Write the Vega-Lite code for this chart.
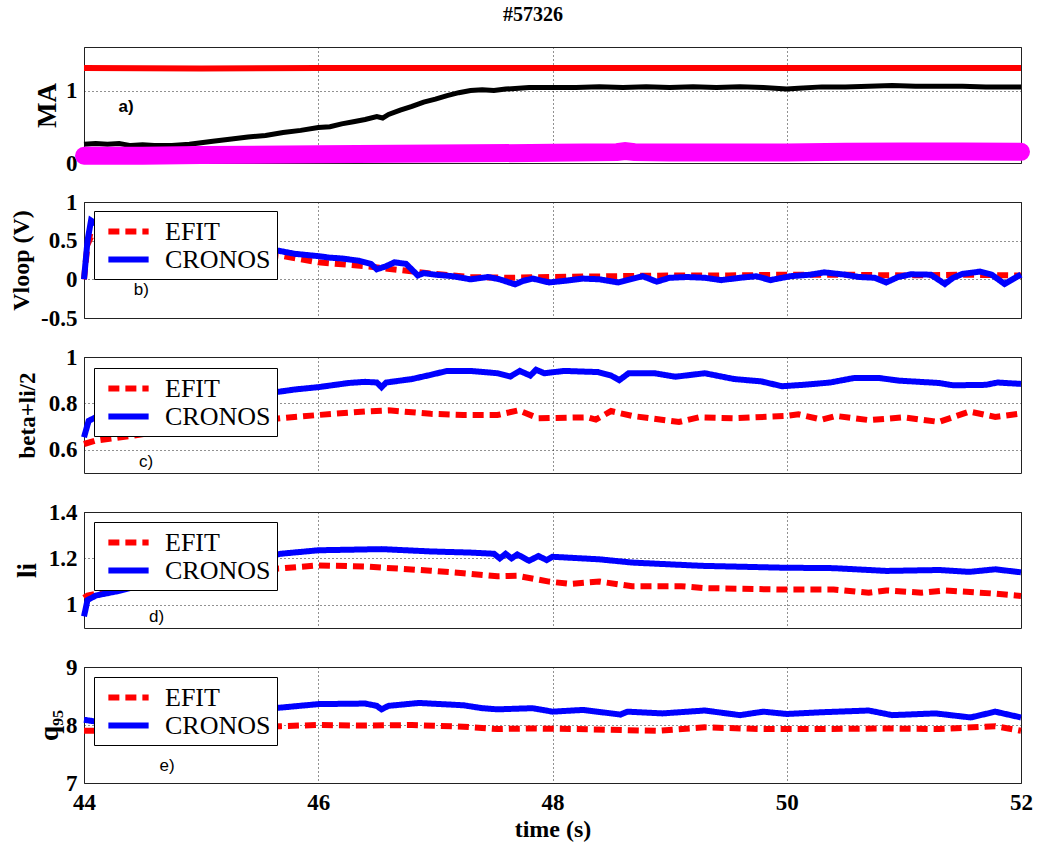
{
  "$schema": "https://vega.github.io/schema/vega-lite/v6.json",
  "background": "white",
  "bounds": "flush",
  "padding": {"left": 8, "top": 4, "right": 5, "bottom": 0},
  "title": {"text": "#57326", "font": "Liberation Serif", "fontSize": 20, "fontWeight": "bold", "anchor": "middle", "offset": 22, "color": "black"},
  "config": {
    "view": {"stroke": "#222222", "strokeWidth": 1},
    "axis": {"grid": true, "gridDash": [1, 3], "gridColor": "#222222", "gridWidth": 1, "domain": false, "ticks": false, "tickCount": 10, "labelExpr": "toString(datum.value)", "labelFont": "Liberation Serif", "labelFontWeight": "bold", "labelFontSize": 23, "labelColor": "black", "titleFont": "Liberation Serif", "titleFontWeight": "bold", "titleFontSize": 24, "titleColor": "black", "labelFlush": false, "labelOverlap": false},
    "axisY": {"labelPadding": 7, "minExtent": 10, "maxExtent": 10}
  },
  "datasets": {
    "maRed": [
      {"t": 44.0, "v": 1.31}, {"t": 45.0, "v": 1.305}, {"t": 46.0, "v": 1.31}, {"t": 47.0, "v": 1.31}, {"t": 48.0, "v": 1.31}, {"t": 49.0, "v": 1.31}, {"t": 50.0, "v": 1.31}, {"t": 51.0, "v": 1.31}, {"t": 52.0, "v": 1.31}
    ],
    "maBlack": [
      {"t": 44.0, "v": 0.26}, {"t": 44.1, "v": 0.27}, {"t": 44.2, "v": 0.26}, {"t": 44.3, "v": 0.27}, {"t": 44.4, "v": 0.24}, {"t": 44.5, "v": 0.25}, {"t": 44.6, "v": 0.24}, {"t": 44.75, "v": 0.24}, {"t": 44.9, "v": 0.26}, {"t": 45.0, "v": 0.28}, {"t": 45.1, "v": 0.3}, {"t": 45.26, "v": 0.33}, {"t": 45.4, "v": 0.36}, {"t": 45.55, "v": 0.38}, {"t": 45.7, "v": 0.42}, {"t": 45.85, "v": 0.45}, {"t": 46.0, "v": 0.49}, {"t": 46.1, "v": 0.5}, {"t": 46.2, "v": 0.54}, {"t": 46.3, "v": 0.57}, {"t": 46.4, "v": 0.6}, {"t": 46.5, "v": 0.64}, {"t": 46.55, "v": 0.62}, {"t": 46.6, "v": 0.67}, {"t": 46.7, "v": 0.73}, {"t": 46.8, "v": 0.78}, {"t": 46.9, "v": 0.84}, {"t": 47.0, "v": 0.88}, {"t": 47.1, "v": 0.93}, {"t": 47.2, "v": 0.97}, {"t": 47.3, "v": 1.0}, {"t": 47.4, "v": 1.01}, {"t": 47.5, "v": 1.0}, {"t": 47.6, "v": 1.02}, {"t": 47.8, "v": 1.04}, {"t": 48.0, "v": 1.04}, {"t": 48.2, "v": 1.04}, {"t": 48.4, "v": 1.05}, {"t": 48.6, "v": 1.04}, {"t": 48.8, "v": 1.05}, {"t": 49.0, "v": 1.04}, {"t": 49.2, "v": 1.05}, {"t": 49.4, "v": 1.04}, {"t": 49.6, "v": 1.05}, {"t": 49.8, "v": 1.04}, {"t": 50.0, "v": 1.02}, {"t": 50.1, "v": 1.03}, {"t": 50.3, "v": 1.05}, {"t": 50.5, "v": 1.05}, {"t": 50.7, "v": 1.06}, {"t": 50.9, "v": 1.07}, {"t": 51.1, "v": 1.06}, {"t": 51.3, "v": 1.06}, {"t": 51.5, "v": 1.06}, {"t": 51.7, "v": 1.05}, {"t": 51.9, "v": 1.05}, {"t": 52.0, "v": 1.05}
    ],
    "maMag": [
      {"t": 44.0, "v": 0.1}, {"t": 44.5, "v": 0.1}, {"t": 45.0, "v": 0.11}, {"t": 46.0, "v": 0.12}, {"t": 47.0, "v": 0.13}, {"t": 48.0, "v": 0.14}, {"t": 48.55, "v": 0.15}, {"t": 48.62, "v": 0.165}, {"t": 48.7, "v": 0.15}, {"t": 49.0, "v": 0.145}, {"t": 50.0, "v": 0.145}, {"t": 50.5, "v": 0.155}, {"t": 51.0, "v": 0.16}, {"t": 51.5, "v": 0.16}, {"t": 52.0, "v": 0.155}
    ],
    "vloop": [
      {"t": 44.0, "v": 0.0, "s": "EFIT"}, {"t": 44.03, "v": 0.45, "s": "EFIT"}, {"t": 44.06, "v": 0.55, "s": "EFIT"}, {"t": 44.2, "v": 0.5, "s": "EFIT"}, {"t": 44.6, "v": 0.45, "s": "EFIT"}, {"t": 45.0, "v": 0.4, "s": "EFIT"}, {"t": 45.4, "v": 0.34, "s": "EFIT"}, {"t": 45.7, "v": 0.3, "s": "EFIT"}, {"t": 46.0, "v": 0.22, "s": "EFIT"}, {"t": 46.4, "v": 0.17, "s": "EFIT"}, {"t": 46.7, "v": 0.12, "s": "EFIT"}, {"t": 47.0, "v": 0.07, "s": "EFIT"}, {"t": 47.3, "v": 0.03, "s": "EFIT"}, {"t": 47.6, "v": 0.02, "s": "EFIT"}, {"t": 48.0, "v": 0.03, "s": "EFIT"}, {"t": 48.5, "v": 0.04, "s": "EFIT"}, {"t": 49.0, "v": 0.05, "s": "EFIT"}, {"t": 49.5, "v": 0.05, "s": "EFIT"}, {"t": 50.0, "v": 0.06, "s": "EFIT"}, {"t": 50.5, "v": 0.06, "s": "EFIT"}, {"t": 51.0, "v": 0.05, "s": "EFIT"}, {"t": 51.5, "v": 0.06, "s": "EFIT"}, {"t": 52.0, "v": 0.05, "s": "EFIT"},
      {"t": 44.0, "v": 0.0, "s": "CRONOS"}, {"t": 44.03, "v": 0.5, "s": "CRONOS"}, {"t": 44.06, "v": 0.76, "s": "CRONOS"}, {"t": 44.1, "v": 0.72, "s": "CRONOS"}, {"t": 44.3, "v": 0.6, "s": "CRONOS"}, {"t": 44.6, "v": 0.52, "s": "CRONOS"}, {"t": 45.0, "v": 0.45, "s": "CRONOS"}, {"t": 45.3, "v": 0.4, "s": "CRONOS"}, {"t": 45.66, "v": 0.37, "s": "CRONOS"}, {"t": 45.8, "v": 0.33, "s": "CRONOS"}, {"t": 46.0, "v": 0.3, "s": "CRONOS"}, {"t": 46.1, "v": 0.28, "s": "CRONOS"}, {"t": 46.2, "v": 0.27, "s": "CRONOS"}, {"t": 46.35, "v": 0.24, "s": "CRONOS"}, {"t": 46.45, "v": 0.2, "s": "CRONOS"}, {"t": 46.5, "v": 0.13, "s": "CRONOS"}, {"t": 46.58, "v": 0.17, "s": "CRONOS"}, {"t": 46.65, "v": 0.22, "s": "CRONOS"}, {"t": 46.75, "v": 0.2, "s": "CRONOS"}, {"t": 46.85, "v": 0.05, "s": "CRONOS"}, {"t": 46.9, "v": 0.08, "s": "CRONOS"}, {"t": 47.0, "v": 0.06, "s": "CRONOS"}, {"t": 47.15, "v": 0.04, "s": "CRONOS"}, {"t": 47.3, "v": 0.0, "s": "CRONOS"}, {"t": 47.45, "v": 0.03, "s": "CRONOS"}, {"t": 47.55, "v": 0.0, "s": "CRONOS"}, {"t": 47.68, "v": -0.065, "s": "CRONOS"}, {"t": 47.75, "v": -0.02, "s": "CRONOS"}, {"t": 47.83, "v": 0.01, "s": "CRONOS"}, {"t": 47.97, "v": -0.04, "s": "CRONOS"}, {"t": 48.1, "v": -0.02, "s": "CRONOS"}, {"t": 48.26, "v": 0.01, "s": "CRONOS"}, {"t": 48.4, "v": 0.0, "s": "CRONOS"}, {"t": 48.56, "v": -0.04, "s": "CRONOS"}, {"t": 48.77, "v": 0.04, "s": "CRONOS"}, {"t": 48.89, "v": -0.03, "s": "CRONOS"}, {"t": 49.0, "v": 0.02, "s": "CRONOS"}, {"t": 49.15, "v": 0.03, "s": "CRONOS"}, {"t": 49.3, "v": 0.02, "s": "CRONOS"}, {"t": 49.44, "v": -0.01, "s": "CRONOS"}, {"t": 49.6, "v": 0.02, "s": "CRONOS"}, {"t": 49.74, "v": 0.04, "s": "CRONOS"}, {"t": 49.86, "v": -0.01, "s": "CRONOS"}, {"t": 50.03, "v": 0.04, "s": "CRONOS"}, {"t": 50.2, "v": 0.06, "s": "CRONOS"}, {"t": 50.32, "v": 0.09, "s": "CRONOS"}, {"t": 50.5, "v": 0.06, "s": "CRONOS"}, {"t": 50.62, "v": 0.03, "s": "CRONOS"}, {"t": 50.75, "v": 0.02, "s": "CRONOS"}, {"t": 50.85, "v": -0.04, "s": "CRONOS"}, {"t": 50.95, "v": 0.03, "s": "CRONOS"}, {"t": 51.06, "v": 0.065, "s": "CRONOS"}, {"t": 51.23, "v": 0.06, "s": "CRONOS"}, {"t": 51.35, "v": -0.06, "s": "CRONOS"}, {"t": 51.42, "v": 0.02, "s": "CRONOS"}, {"t": 51.5, "v": 0.07, "s": "CRONOS"}, {"t": 51.65, "v": 0.1, "s": "CRONOS"}, {"t": 51.75, "v": 0.06, "s": "CRONOS"}, {"t": 51.86, "v": -0.06, "s": "CRONOS"}, {"t": 51.95, "v": 0.02, "s": "CRONOS"}, {"t": 52.0, "v": 0.06, "s": "CRONOS"}
    ],
    "beta": [
      {"t": 44.0, "v": 0.625, "s": "EFIT"}, {"t": 44.1, "v": 0.64, "s": "EFIT"}, {"t": 44.41, "v": 0.66, "s": "EFIT"}, {"t": 44.8, "v": 0.69, "s": "EFIT"}, {"t": 45.2, "v": 0.71, "s": "EFIT"}, {"t": 45.68, "v": 0.736, "s": "EFIT"}, {"t": 46.0, "v": 0.75, "s": "EFIT"}, {"t": 46.4, "v": 0.765, "s": "EFIT"}, {"t": 46.6, "v": 0.77, "s": "EFIT"}, {"t": 46.96, "v": 0.755, "s": "EFIT"}, {"t": 47.24, "v": 0.75, "s": "EFIT"}, {"t": 47.53, "v": 0.75, "s": "EFIT"}, {"t": 47.71, "v": 0.77, "s": "EFIT"}, {"t": 47.88, "v": 0.736, "s": "EFIT"}, {"t": 48.3, "v": 0.74, "s": "EFIT"}, {"t": 48.37, "v": 0.73, "s": "EFIT"}, {"t": 48.5, "v": 0.767, "s": "EFIT"}, {"t": 48.68, "v": 0.746, "s": "EFIT"}, {"t": 49.08, "v": 0.72, "s": "EFIT"}, {"t": 49.25, "v": 0.74, "s": "EFIT"}, {"t": 49.55, "v": 0.736, "s": "EFIT"}, {"t": 50.0, "v": 0.746, "s": "EFIT"}, {"t": 50.1, "v": 0.753, "s": "EFIT"}, {"t": 50.3, "v": 0.73, "s": "EFIT"}, {"t": 50.42, "v": 0.746, "s": "EFIT"}, {"t": 50.7, "v": 0.728, "s": "EFIT"}, {"t": 51.0, "v": 0.74, "s": "EFIT"}, {"t": 51.3, "v": 0.72, "s": "EFIT"}, {"t": 51.56, "v": 0.765, "s": "EFIT"}, {"t": 51.78, "v": 0.742, "s": "EFIT"}, {"t": 52.0, "v": 0.756, "s": "EFIT"},
      {"t": 44.0, "v": 0.654, "s": "CRONOS"}, {"t": 44.04, "v": 0.725, "s": "CRONOS"}, {"t": 44.1, "v": 0.74, "s": "CRONOS"}, {"t": 44.3, "v": 0.76, "s": "CRONOS"}, {"t": 44.6, "v": 0.79, "s": "CRONOS"}, {"t": 45.0, "v": 0.82, "s": "CRONOS"}, {"t": 45.4, "v": 0.84, "s": "CRONOS"}, {"t": 45.66, "v": 0.85, "s": "CRONOS"}, {"t": 45.8, "v": 0.86, "s": "CRONOS"}, {"t": 46.0, "v": 0.87, "s": "CRONOS"}, {"t": 46.26, "v": 0.888, "s": "CRONOS"}, {"t": 46.4, "v": 0.893, "s": "CRONOS"}, {"t": 46.5, "v": 0.89, "s": "CRONOS"}, {"t": 46.54, "v": 0.87, "s": "CRONOS"}, {"t": 46.58, "v": 0.89, "s": "CRONOS"}, {"t": 46.8, "v": 0.905, "s": "CRONOS"}, {"t": 46.96, "v": 0.923, "s": "CRONOS"}, {"t": 47.1, "v": 0.94, "s": "CRONOS"}, {"t": 47.3, "v": 0.94, "s": "CRONOS"}, {"t": 47.53, "v": 0.93, "s": "CRONOS"}, {"t": 47.64, "v": 0.916, "s": "CRONOS"}, {"t": 47.72, "v": 0.94, "s": "CRONOS"}, {"t": 47.81, "v": 0.92, "s": "CRONOS"}, {"t": 47.86, "v": 0.945, "s": "CRONOS"}, {"t": 47.93, "v": 0.93, "s": "CRONOS"}, {"t": 48.1, "v": 0.94, "s": "CRONOS"}, {"t": 48.39, "v": 0.935, "s": "CRONOS"}, {"t": 48.5, "v": 0.92, "s": "CRONOS"}, {"t": 48.57, "v": 0.9, "s": "CRONOS"}, {"t": 48.65, "v": 0.93, "s": "CRONOS"}, {"t": 48.87, "v": 0.93, "s": "CRONOS"}, {"t": 49.05, "v": 0.915, "s": "CRONOS"}, {"t": 49.3, "v": 0.93, "s": "CRONOS"}, {"t": 49.55, "v": 0.905, "s": "CRONOS"}, {"t": 49.78, "v": 0.895, "s": "CRONOS"}, {"t": 49.96, "v": 0.874, "s": "CRONOS"}, {"t": 50.14, "v": 0.88, "s": "CRONOS"}, {"t": 50.37, "v": 0.89, "s": "CRONOS"}, {"t": 50.58, "v": 0.91, "s": "CRONOS"}, {"t": 50.78, "v": 0.91, "s": "CRONOS"}, {"t": 50.96, "v": 0.898, "s": "CRONOS"}, {"t": 51.3, "v": 0.888, "s": "CRONOS"}, {"t": 51.42, "v": 0.878, "s": "CRONOS"}, {"t": 51.7, "v": 0.88, "s": "CRONOS"}, {"t": 51.8, "v": 0.89, "s": "CRONOS"}, {"t": 52.0, "v": 0.884, "s": "CRONOS"}
    ],
    "li": [
      {"t": 44.0, "v": 1.03, "s": "EFIT"}, {"t": 44.03, "v": 1.04, "s": "EFIT"}, {"t": 44.13, "v": 1.05, "s": "EFIT"}, {"t": 44.3, "v": 1.07, "s": "EFIT"}, {"t": 44.6, "v": 1.1, "s": "EFIT"}, {"t": 45.0, "v": 1.13, "s": "EFIT"}, {"t": 45.4, "v": 1.15, "s": "EFIT"}, {"t": 45.68, "v": 1.157, "s": "EFIT"}, {"t": 46.0, "v": 1.17, "s": "EFIT"}, {"t": 46.4, "v": 1.165, "s": "EFIT"}, {"t": 46.96, "v": 1.147, "s": "EFIT"}, {"t": 47.24, "v": 1.136, "s": "EFIT"}, {"t": 47.53, "v": 1.123, "s": "EFIT"}, {"t": 47.7, "v": 1.125, "s": "EFIT"}, {"t": 47.97, "v": 1.1, "s": "EFIT"}, {"t": 48.15, "v": 1.09, "s": "EFIT"}, {"t": 48.4, "v": 1.1, "s": "EFIT"}, {"t": 48.68, "v": 1.08, "s": "EFIT"}, {"t": 49.1, "v": 1.08, "s": "EFIT"}, {"t": 49.3, "v": 1.072, "s": "EFIT"}, {"t": 49.96, "v": 1.066, "s": "EFIT"}, {"t": 50.4, "v": 1.066, "s": "EFIT"}, {"t": 50.7, "v": 1.052, "s": "EFIT"}, {"t": 50.85, "v": 1.062, "s": "EFIT"}, {"t": 51.15, "v": 1.052, "s": "EFIT"}, {"t": 51.35, "v": 1.062, "s": "EFIT"}, {"t": 51.78, "v": 1.048, "s": "EFIT"}, {"t": 52.0, "v": 1.038, "s": "EFIT"},
      {"t": 44.0, "v": 0.95, "s": "CRONOS"}, {"t": 44.03, "v": 1.02, "s": "CRONOS"}, {"t": 44.1, "v": 1.04, "s": "CRONOS"}, {"t": 44.3, "v": 1.06, "s": "CRONOS"}, {"t": 44.6, "v": 1.1, "s": "CRONOS"}, {"t": 45.0, "v": 1.15, "s": "CRONOS"}, {"t": 45.4, "v": 1.19, "s": "CRONOS"}, {"t": 45.68, "v": 1.22, "s": "CRONOS"}, {"t": 46.0, "v": 1.235, "s": "CRONOS"}, {"t": 46.54, "v": 1.24, "s": "CRONOS"}, {"t": 46.96, "v": 1.23, "s": "CRONOS"}, {"t": 47.3, "v": 1.225, "s": "CRONOS"}, {"t": 47.5, "v": 1.22, "s": "CRONOS"}, {"t": 47.55, "v": 1.2, "s": "CRONOS"}, {"t": 47.6, "v": 1.22, "s": "CRONOS"}, {"t": 47.65, "v": 1.2, "s": "CRONOS"}, {"t": 47.7, "v": 1.217, "s": "CRONOS"}, {"t": 47.8, "v": 1.19, "s": "CRONOS"}, {"t": 47.88, "v": 1.21, "s": "CRONOS"}, {"t": 47.95, "v": 1.193, "s": "CRONOS"}, {"t": 48.0, "v": 1.207, "s": "CRONOS"}, {"t": 48.4, "v": 1.196, "s": "CRONOS"}, {"t": 48.68, "v": 1.182, "s": "CRONOS"}, {"t": 49.27, "v": 1.168, "s": "CRONOS"}, {"t": 49.96, "v": 1.16, "s": "CRONOS"}, {"t": 50.4, "v": 1.158, "s": "CRONOS"}, {"t": 50.85, "v": 1.146, "s": "CRONOS"}, {"t": 51.3, "v": 1.15, "s": "CRONOS"}, {"t": 51.56, "v": 1.142, "s": "CRONOS"}, {"t": 51.78, "v": 1.153, "s": "CRONOS"}, {"t": 52.0, "v": 1.14, "s": "CRONOS"}
    ],
    "q95": [
      {"t": 44.0, "v": 7.9, "s": "EFIT"}, {"t": 44.1, "v": 7.9, "s": "EFIT"}, {"t": 44.5, "v": 7.92, "s": "EFIT"}, {"t": 45.0, "v": 7.95, "s": "EFIT"}, {"t": 45.68, "v": 7.98, "s": "EFIT"}, {"t": 46.0, "v": 8.0, "s": "EFIT"}, {"t": 46.4, "v": 7.99, "s": "EFIT"}, {"t": 46.8, "v": 8.0, "s": "EFIT"}, {"t": 47.24, "v": 7.97, "s": "EFIT"}, {"t": 47.53, "v": 7.93, "s": "EFIT"}, {"t": 47.8, "v": 7.94, "s": "EFIT"}, {"t": 48.2, "v": 7.93, "s": "EFIT"}, {"t": 48.9, "v": 7.9, "s": "EFIT"}, {"t": 49.3, "v": 7.96, "s": "EFIT"}, {"t": 49.8, "v": 7.93, "s": "EFIT"}, {"t": 50.3, "v": 7.93, "s": "EFIT"}, {"t": 50.8, "v": 7.94, "s": "EFIT"}, {"t": 51.3, "v": 7.93, "s": "EFIT"}, {"t": 51.78, "v": 7.98, "s": "EFIT"}, {"t": 52.0, "v": 7.9, "s": "EFIT"},
      {"t": 44.0, "v": 8.09, "s": "CRONOS"}, {"t": 44.1, "v": 8.06, "s": "CRONOS"}, {"t": 44.5, "v": 8.12, "s": "CRONOS"}, {"t": 45.0, "v": 8.2, "s": "CRONOS"}, {"t": 45.4, "v": 8.27, "s": "CRONOS"}, {"t": 45.68, "v": 8.3, "s": "CRONOS"}, {"t": 46.0, "v": 8.36, "s": "CRONOS"}, {"t": 46.4, "v": 8.37, "s": "CRONOS"}, {"t": 46.5, "v": 8.33, "s": "CRONOS"}, {"t": 46.54, "v": 8.27, "s": "CRONOS"}, {"t": 46.6, "v": 8.33, "s": "CRONOS"}, {"t": 46.86, "v": 8.38, "s": "CRONOS"}, {"t": 47.24, "v": 8.34, "s": "CRONOS"}, {"t": 47.4, "v": 8.29, "s": "CRONOS"}, {"t": 47.53, "v": 8.27, "s": "CRONOS"}, {"t": 47.83, "v": 8.29, "s": "CRONOS"}, {"t": 48.0, "v": 8.23, "s": "CRONOS"}, {"t": 48.26, "v": 8.26, "s": "CRONOS"}, {"t": 48.58, "v": 8.18, "s": "CRONOS"}, {"t": 48.64, "v": 8.23, "s": "CRONOS"}, {"t": 48.94, "v": 8.2, "s": "CRONOS"}, {"t": 49.3, "v": 8.25, "s": "CRONOS"}, {"t": 49.6, "v": 8.17, "s": "CRONOS"}, {"t": 49.8, "v": 8.23, "s": "CRONOS"}, {"t": 50.0, "v": 8.19, "s": "CRONOS"}, {"t": 50.3, "v": 8.22, "s": "CRONOS"}, {"t": 50.7, "v": 8.25, "s": "CRONOS"}, {"t": 50.9, "v": 8.17, "s": "CRONOS"}, {"t": 51.27, "v": 8.2, "s": "CRONOS"}, {"t": 51.57, "v": 8.13, "s": "CRONOS"}, {"t": 51.78, "v": 8.23, "s": "CRONOS"}, {"t": 52.0, "v": 8.13, "s": "CRONOS"}
    ]
  },
  "spacing": 39,
  "vconcat": [
    {
      "width": 937, "height": 116,
      "layer": [
        {"data": {"name": "maRed"}, "mark": {"type": "line", "color": "#ff0000", "strokeWidth": 6},
         "encoding": {
           "x": {"field": "t", "type": "quantitative", "scale": {"domain": [44, 52], "nice": false}, "axis": {"values": [44, 46, 48, 50, 52], "labels": false, "title": null}},
           "y": {"field": "v", "type": "quantitative", "scale": {"domain": [0, 1.6], "nice": false}, "axis": {"values": [0, 1], "title": "MA", "titleFontSize": 27, "titlePadding": 13}}
         }},
        {"data": {"name": "maBlack"}, "mark": {"type": "line", "color": "#000000", "strokeWidth": 5},
         "encoding": {"x": {"field": "t", "type": "quantitative"}, "y": {"field": "v", "type": "quantitative"}}},
        {"data": {"name": "maMag"}, "mark": {"type": "line", "color": "#ff00ff", "strokeWidth": 18, "strokeCap": "round"},
         "encoding": {"x": {"field": "t", "type": "quantitative"}, "y": {"field": "v", "type": "quantitative"}}},
        {"data": {"values": [{"label": "a)"}]}, "mark": {"type": "text", "font": "Liberation Sans", "fontSize": 17, "fontWeight": "bold", "color": "black"},
         "encoding": {"x": {"datum": 44.36, "type": "quantitative"}, "y": {"datum": 0.77, "type": "quantitative"}, "text": {"field": "label"}}}
      ]
    },
    {
      "width": 937, "height": 116,
      "layer": [
        {"data": {"name": "vloop"}, "mark": {"type": "line", "strokeWidth": 6},
         "encoding": {
           "x": {"field": "t", "type": "quantitative", "scale": {"domain": [44, 52], "nice": false}, "axis": {"values": [44, 46, 48, 50, 52], "labels": false, "title": null}},
           "y": {"field": "v", "type": "quantitative", "scale": {"domain": [-0.5, 1], "nice": false, "zero": false}, "axis": {"values": [-0.5, 0, 0.5, 1], "title": "Vloop (V)", "titlePadding": 41}},
           "color": {"field": "s", "type": "nominal", "scale": {"domain": ["EFIT", "CRONOS"], "range": ["#ff0000", "#0000ff"]},
             "legend": {"title": null, "orient": "none", "legendX": 10, "legendY": 9, "symbolType": "M-1.75,0H1.75", "symbolSize": 529, "symbolStrokeWidth": 6, "labelFont": "Liberation Serif", "labelFontSize": 26, "labelFontWeight": "normal", "labelColor": "black", "padding": 6, "rowPadding": 0, "symbolOffset": 14, "labelOffset": 22, "strokeColor": "black", "fillColor": "white", "cornerRadius": 0}},
           "strokeDash": {"field": "s", "type": "nominal", "scale": {"domain": ["EFIT", "CRONOS"], "range": [[11, 6], [1, 0]]},
             "legend": {"title": null, "orient": "none", "legendX": 10, "legendY": 9, "symbolType": "M-1.75,0H1.75", "symbolSize": 529, "symbolStrokeWidth": 6, "labelFont": "Liberation Serif", "labelFontSize": 26, "labelFontWeight": "normal", "labelColor": "black", "padding": 6, "rowPadding": 0, "symbolOffset": 14, "labelOffset": 22, "strokeColor": "black", "fillColor": "white", "cornerRadius": 0}}
         }},
        {"data": {"values": [{"label": "b)"}]}, "mark": {"type": "text", "font": "Liberation Sans", "fontSize": 17, "color": "black"},
         "encoding": {"x": {"datum": 44.49, "type": "quantitative"}, "y": {"datum": -0.14, "type": "quantitative"}, "text": {"field": "label"}}}
      ]
    },
    {
      "width": 937, "height": 116,
      "layer": [
        {"data": {"name": "beta"}, "mark": {"type": "line", "strokeWidth": 6},
         "encoding": {
           "x": {"field": "t", "type": "quantitative", "scale": {"domain": [44, 52], "nice": false}, "axis": {"values": [44, 46, 48, 50, 52], "labels": false, "title": null}},
           "y": {"field": "v", "type": "quantitative", "scale": {"domain": [0.5, 1], "nice": false, "zero": false}, "axis": {"values": [0.6, 0.8, 1], "title": "beta+li/2", "titleFontSize": 23, "titlePadding": 35}},
           "color": {"field": "s", "type": "nominal", "scale": {"domain": ["EFIT", "CRONOS"], "range": ["#ff0000", "#0000ff"]},
             "legend": {"title": null, "orient": "none", "legendX": 10, "legendY": 11, "symbolType": "M-1.75,0H1.75", "symbolSize": 529, "symbolStrokeWidth": 6, "labelFont": "Liberation Serif", "labelFontSize": 26, "labelFontWeight": "normal", "labelColor": "black", "padding": 6, "rowPadding": 0, "symbolOffset": 14, "labelOffset": 22, "strokeColor": "black", "fillColor": "white", "cornerRadius": 0}},
           "strokeDash": {"field": "s", "type": "nominal", "scale": {"domain": ["EFIT", "CRONOS"], "range": [[11, 6], [1, 0]]},
             "legend": {"title": null, "orient": "none", "legendX": 10, "legendY": 11, "symbolType": "M-1.75,0H1.75", "symbolSize": 529, "symbolStrokeWidth": 6, "labelFont": "Liberation Serif", "labelFontSize": 26, "labelFontWeight": "normal", "labelColor": "black", "padding": 6, "rowPadding": 0, "symbolOffset": 14, "labelOffset": 22, "strokeColor": "black", "fillColor": "white", "cornerRadius": 0}}
         }},
        {"data": {"values": [{"label": "c)"}]}, "mark": {"type": "text", "font": "Liberation Sans", "fontSize": 17, "color": "black"},
         "encoding": {"x": {"datum": 44.53, "type": "quantitative"}, "y": {"datum": 0.547, "type": "quantitative"}, "text": {"field": "label"}}}
      ]
    },
    {
      "width": 937, "height": 116,
      "layer": [
        {"data": {"name": "li"}, "mark": {"type": "line", "strokeWidth": 6},
         "encoding": {
           "x": {"field": "t", "type": "quantitative", "scale": {"domain": [44, 52], "nice": false}, "axis": {"values": [44, 46, 48, 50, 52], "labels": false, "title": null}},
           "y": {"field": "v", "type": "quantitative", "scale": {"domain": [0.9, 1.4], "nice": false, "zero": false}, "axis": {"values": [1, 1.2, 1.4], "title": "li", "titleFontSize": 27, "titlePadding": 33}},
           "color": {"field": "s", "type": "nominal", "scale": {"domain": ["EFIT", "CRONOS"], "range": ["#ff0000", "#0000ff"]},
             "legend": {"title": null, "orient": "none", "legendX": 10, "legendY": 10, "symbolType": "M-1.75,0H1.75", "symbolSize": 529, "symbolStrokeWidth": 6, "labelFont": "Liberation Serif", "labelFontSize": 26, "labelFontWeight": "normal", "labelColor": "black", "padding": 6, "rowPadding": 0, "symbolOffset": 14, "labelOffset": 22, "strokeColor": "black", "fillColor": "white", "cornerRadius": 0}},
           "strokeDash": {"field": "s", "type": "nominal", "scale": {"domain": ["EFIT", "CRONOS"], "range": [[11, 6], [1, 0]]},
             "legend": {"title": null, "orient": "none", "legendX": 10, "legendY": 10, "symbolType": "M-1.75,0H1.75", "symbolSize": 529, "symbolStrokeWidth": 6, "labelFont": "Liberation Serif", "labelFontSize": 26, "labelFontWeight": "normal", "labelColor": "black", "padding": 6, "rowPadding": 0, "symbolOffset": 14, "labelOffset": 22, "strokeColor": "black", "fillColor": "white", "cornerRadius": 0}}
         }},
        {"data": {"values": [{"label": "d)"}]}, "mark": {"type": "text", "font": "Liberation Sans", "fontSize": 17, "color": "black"},
         "encoding": {"x": {"datum": 44.62, "type": "quantitative"}, "y": {"datum": 0.947, "type": "quantitative"}, "text": {"field": "label"}}}
      ]
    },
    {
      "width": 937, "height": 116,
      "layer": [
        {"data": {"name": "q95"}, "mark": {"type": "line", "strokeWidth": 6},
         "encoding": {
           "x": {"field": "t", "type": "quantitative", "scale": {"domain": [44, 52], "nice": false}, "axis": {"values": [44, 46, 48, 50, 52], "title": "time (s)", "labelPadding": 8, "titlePadding": 3}},
           "y": {"field": "v", "type": "quantitative", "scale": {"domain": [7, 9], "nice": false, "zero": false}, "axis": {"values": [7, 8, 9], "title": "q₉₅", "titleFontSize": 27, "titlePadding": 11}},
           "color": {"field": "s", "type": "nominal", "scale": {"domain": ["EFIT", "CRONOS"], "range": ["#ff0000", "#0000ff"]},
             "legend": {"title": null, "orient": "none", "legendX": 10, "legendY": 10, "symbolType": "M-1.75,0H1.75", "symbolSize": 529, "symbolStrokeWidth": 6, "labelFont": "Liberation Serif", "labelFontSize": 26, "labelFontWeight": "normal", "labelColor": "black", "padding": 6, "rowPadding": 0, "symbolOffset": 14, "labelOffset": 22, "strokeColor": "black", "fillColor": "white", "cornerRadius": 0}},
           "strokeDash": {"field": "s", "type": "nominal", "scale": {"domain": ["EFIT", "CRONOS"], "range": [[11, 6], [1, 0]]},
             "legend": {"title": null, "orient": "none", "legendX": 10, "legendY": 10, "symbolType": "M-1.75,0H1.75", "symbolSize": 529, "symbolStrokeWidth": 6, "labelFont": "Liberation Serif", "labelFontSize": 26, "labelFontWeight": "normal", "labelColor": "black", "padding": 6, "rowPadding": 0, "symbolOffset": 14, "labelOffset": 22, "strokeColor": "black", "fillColor": "white", "cornerRadius": 0}}
         }},
        {"data": {"values": [{"label": "e)"}]}, "mark": {"type": "text", "font": "Liberation Sans", "fontSize": 17, "color": "black"},
         "encoding": {"x": {"datum": 44.71, "type": "quantitative"}, "y": {"datum": 7.3, "type": "quantitative"}, "text": {"field": "label"}}}
      ]
    }
  ],
  "resolve": {
    "scale": {"color": "independent", "strokeDash": "independent", "y": "independent"},
    "legend": {"color": "independent", "strokeDash": "independent"}
  }
}
